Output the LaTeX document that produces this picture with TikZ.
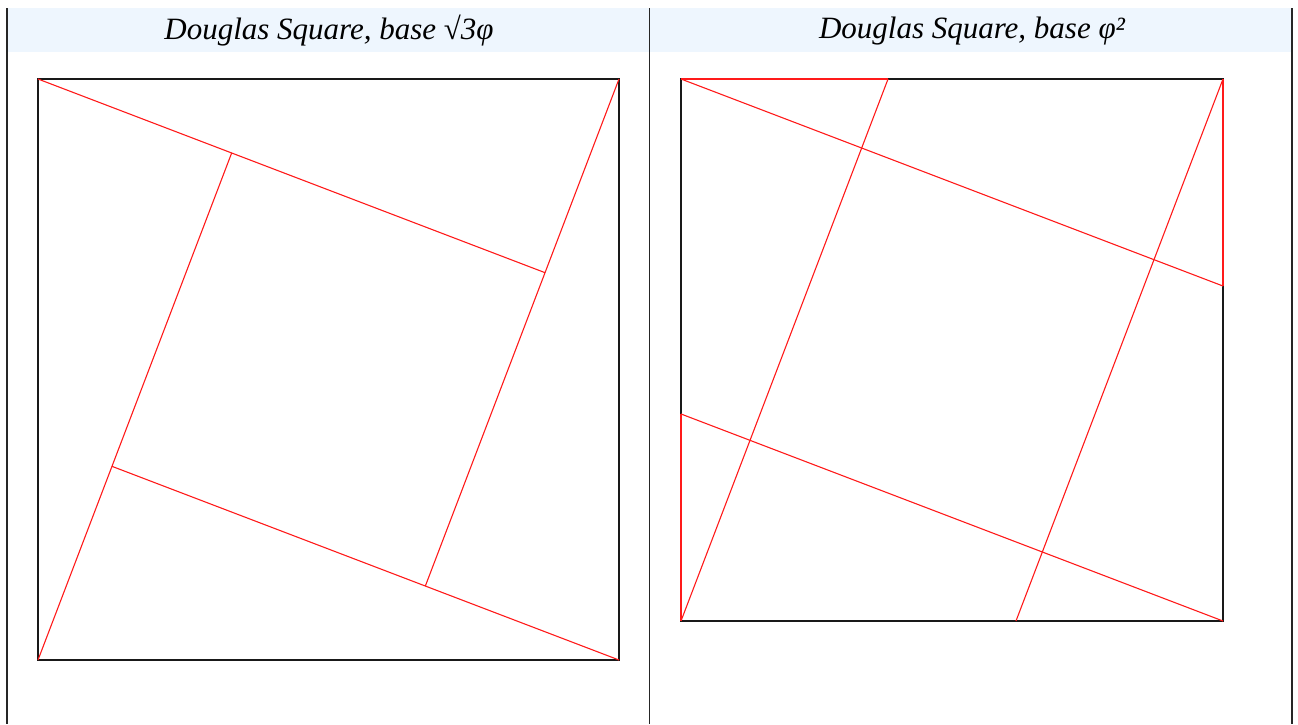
\documentclass[tikz,border=0pt]{standalone}
\usepackage{fontspec}
\setmainfont{Liberation Serif}
\definecolor{hdr}{HTML}{EEF6FE}
\definecolor{rl}{HTML}{FF1A1A}
\tikzset{
  frame/.style={draw=black!90, line width=1.2pt},
  border/.style={draw=black!85, line width=1.3pt},
  redline/.style={draw=rl, line width=1.1pt},
  rededge/.style={draw=rl, line width=1.2pt},
  title/.style={font=\itshape\fontsize{31}{36}\selectfont, text=black, inner sep=0pt}
}
\begin{document}
\begin{tikzpicture}[x=1pt,y=-1pt]
\useasboundingbox (0,0) rectangle (1298,724);
% header band
\fill[hdr] (7,8) rectangle (1292,52);
\draw[border] (7,8) -- (7,724);
\draw[border] (649.5,8) -- (649.5,724);
\draw[border] (1292,8) -- (1292,724);
\node[title] (t1) at (329,31) {Douglas Square, base √3φ};
\node[title] (t2) at (972,31) {Douglas Square, base φ²};
% left figure
\coordinate (A) at (38,79);
\coordinate (B) at (619,79);
\coordinate (C) at (619,660);
\coordinate (D) at (38,660);
\coordinate (P1) at (231.67,152.97);
\coordinate (P2) at (545.03,272.67);
\coordinate (P3) at (425.33,586.03);
\coordinate (P4) at (112,466.33);
\draw[frame] (A) -- (B) -- (C) -- (D) -- cycle;
\draw[redline] (A) -- (P2);
\draw[redline] (B) -- (P3);
\draw[redline] (C) -- (P4);
\draw[redline] (D) -- (P1);
% right figure
\coordinate (E) at (681,79);
\coordinate (F) at (1223,79);
\coordinate (G) at (1223,621);
\coordinate (H) at (681,621);
\coordinate (Q1) at (888.03,79);
\coordinate (Q2) at (1223,286.03);
\coordinate (Q3) at (1015.97,621);
\coordinate (Q4) at (681,413.97);
\draw[frame] (E) -- (F) -- (G) -- (H) -- cycle;
\draw[rededge] (E) -- (Q1);
\draw[rededge] (F) -- (Q2);
\draw[rededge] (Q4) -- (H);
\draw[redline] (E) -- (Q2);
\draw[redline] (Q1) -- (H);
\draw[redline] (F) -- (Q3);
\draw[redline] (Q4) -- (G);
\end{tikzpicture}
\end{document}
